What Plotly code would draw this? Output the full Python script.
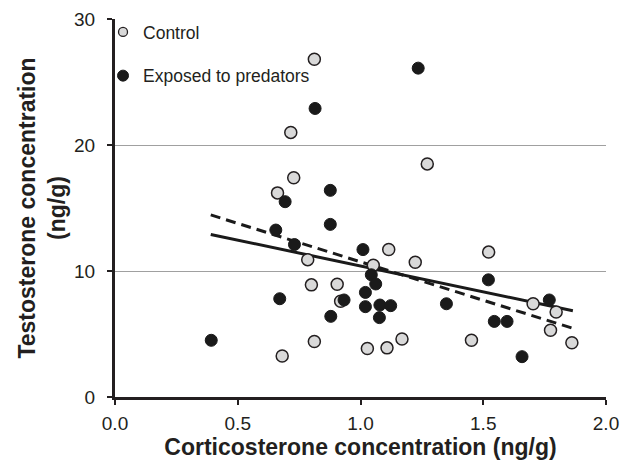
import plotly.graph_objects as go

# Control group (corticosterone ng/g, testosterone ng/g)
control_x = [0.812, 0.716, 0.728, 0.662, 1.272, 0.785, 0.800, 0.905, 0.919, 0.812, 0.681,
             1.115, 1.052, 1.223, 1.522, 1.703, 1.797, 1.774, 1.861, 1.028, 1.108, 1.169, 1.452]
control_y = [26.8, 21.0, 17.4, 16.2, 18.5, 10.9, 8.9, 8.95, 7.6, 4.4, 3.25,
             11.7, 10.45, 10.7, 11.5, 7.4, 6.75, 5.3, 4.3, 3.85, 3.9, 4.6, 4.5]

# Exposed to predators
exposed_x = [0.815, 0.877, 0.693, 1.235, 0.877, 0.655, 0.731, 0.671, 0.933, 0.879, 0.392,
             1.010, 1.044, 1.062, 1.020, 1.020, 1.079, 1.123, 1.077, 1.350, 1.521, 1.545,
             1.597, 1.658, 1.769]
exposed_y = [22.9, 16.4, 15.5, 26.1, 13.7, 13.25, 12.1, 7.8, 7.7, 6.4, 4.5,
             11.7, 9.7, 8.97, 8.3, 7.17, 7.3, 7.25, 6.3, 7.4, 9.3, 6.0,
             6.0, 3.2, 7.7]

# Regression lines
fit_x = [0.39, 1.865]
solid_fit_y = [12.9, 6.85]
dashed_fit_y = [14.45, 5.45]

x_ticks = [0.0, 0.5, 1.0, 1.5, 2.0]
x_tick_labels = ["0.0", "0.5", "1.0", "1.5", "2.0"]
y_ticks = [0, 10, 20, 30]
y_tick_labels = ["0", "10", "20", "30"]

FONT = "Liberation Sans, Arial, sans-serif"
TXT = "#231f20"
CONTROL_FILL = "#d9d9d9"
BLACK = "#1a1a1a"

fig = go.Figure()
fig.add_trace(go.Scatter(x=fit_x, y=dashed_fit_y, mode="lines",
                         line=dict(color=BLACK, width=3, dash="10px,6px"),
                         showlegend=False, hoverinfo="skip"))
fig.add_trace(go.Scatter(x=fit_x, y=solid_fit_y, mode="lines",
                         line=dict(color=BLACK, width=3),
                         showlegend=False, hoverinfo="skip"))
fig.add_trace(go.Scatter(x=control_x, y=control_y, mode="markers", name="Control",
                         showlegend=False,
                         marker=dict(size=12, color=CONTROL_FILL,
                                     line=dict(color=TXT, width=1.5))))
fig.add_trace(go.Scatter(x=exposed_x, y=exposed_y, mode="markers", name="Exposed to predators",
                         showlegend=False,
                         marker=dict(size=12, color=BLACK,
                                     line=dict(color=BLACK, width=1))))
# legend-only entries (smaller symbols, as in the reference legend)
fig.add_trace(go.Scatter(x=[None], y=[None], mode="markers", name="Control",
                         legendgroup="c",
                         marker=dict(size=9, color=CONTROL_FILL,
                                     line=dict(color=TXT, width=1.3))))
fig.add_trace(go.Scatter(x=[None], y=[None], mode="markers", name="Exposed to predators",
                         legendgroup="e",
                         marker=dict(size=11, color=BLACK,
                                     line=dict(color=BLACK, width=1))))

# the page body adds an 8px offset, so the figure is shifted by -8px;
# top margin is 0 and the y-axis domain leaves the top gap, so the legend stays inside paper
FIG_H = 460
BOTTOM = 71
PLOT_H = FIG_H - BOTTOM
fig.update_layout(
    width=624, height=FIG_H,
    margin=dict(l=106.5, r=25.5, t=0, b=BOTTOM),
    paper_bgcolor="white", plot_bgcolor="white",
    font=dict(family=FONT, color=TXT, size=19),
    legend=dict(x=-0.0244, y=1 - 6 / PLOT_H, xanchor="left", yanchor="top",
                bgcolor="rgba(0,0,0,0)", font=dict(size=17.5),
                tracegroupgap=18, itemsizing="trace"),
    xaxis=dict(range=[0, 2.0], tickvals=x_ticks, ticktext=x_tick_labels,
               showgrid=False, zeroline=False, automargin=False,
               showline=True, linecolor=TXT, linewidth=3,
               ticks="outside", ticklen=5, tickwidth=2, tickcolor=TXT,
               tickfont=dict(size=19), ticklabelstandoff=2,
               title=dict(text="Corticosterone concentration (ng/g)",
                          font=dict(size=23, weight="bold"), standoff=6)),
    yaxis=dict(range=[0, 30], tickvals=y_ticks, ticktext=y_tick_labels,
               domain=[0, 1 - 11 / PLOT_H],
               showgrid=True, gridcolor="#a0a0a0", gridwidth=1, zeroline=False,
               automargin=False,
               showline=True, linecolor=TXT, linewidth=3,
               ticks="outside", ticklen=5, tickwidth=2, tickcolor=TXT,
               tickfont=dict(size=19), ticklabelstandoff=8,
               title=dict(text="Testosterone concentration<br>(ng/g)",
                          font=dict(size=23, weight="bold"), standoff=3)),
)

fig.write_html("out.html")
